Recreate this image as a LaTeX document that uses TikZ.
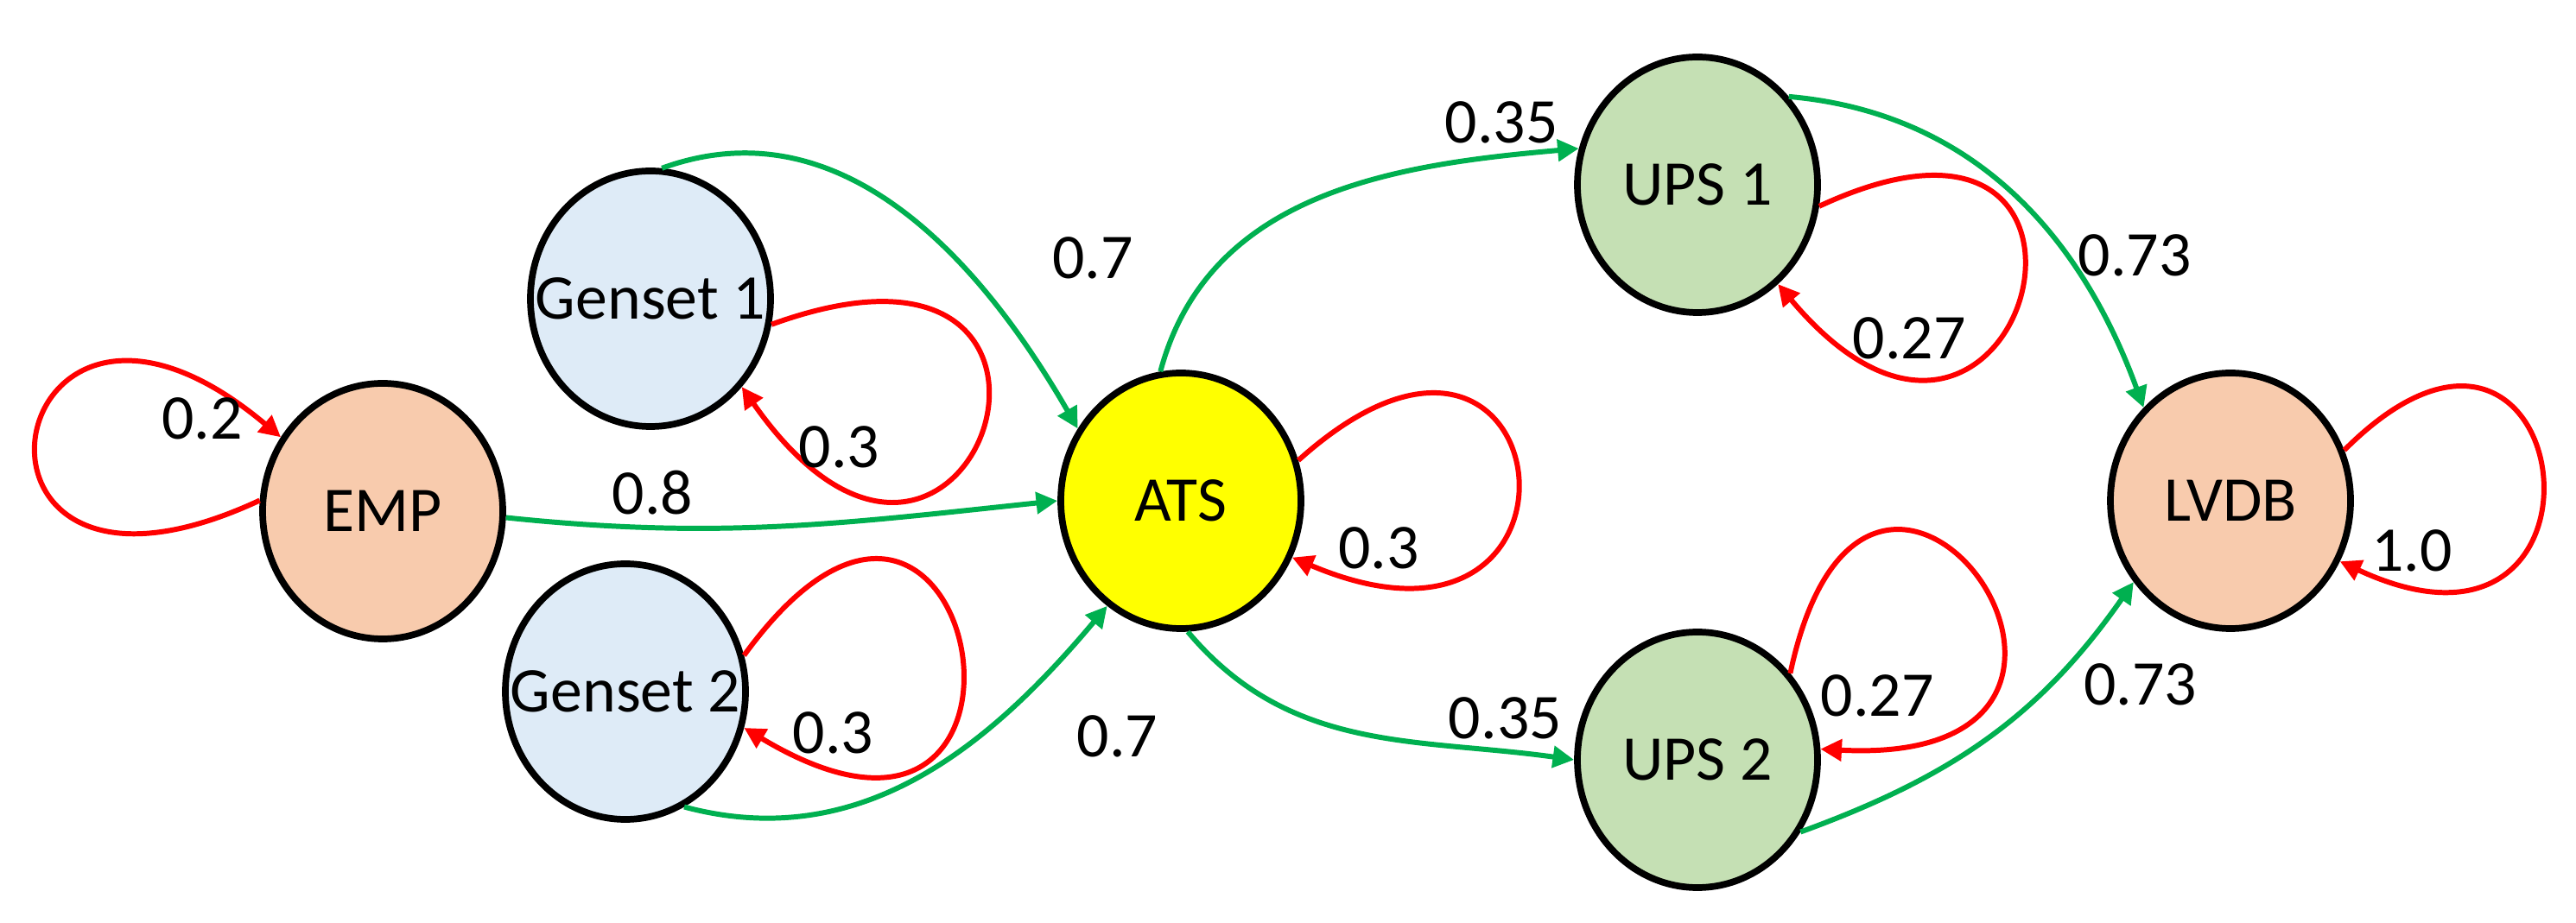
\documentclass[tikz,border=0pt]{standalone}
\usepackage{fontspec}
\setmainfont{Carlito}
\usetikzlibrary{shapes.geometric,arrows.meta}
\definecolor{flowgreen}{RGB}{0,176,80}
\definecolor{loopred}{RGB}{255,0,0}
\definecolor{empfill}{RGB}{248,203,173}
\definecolor{gensetfill}{RGB}{222,235,247}
\definecolor{atsfill}{RGB}{255,255,0}
\definecolor{upsfill}{RGB}{197,224,180}

\begin{document}
\begin{tikzpicture}[font=\fontsize{21}{25}\selectfont, >={Triangle[length=7pt,width=7pt]},
    flow/.style={color=flowgreen, line width=1.7pt},
    stay/.style={color=loopred, line width=1.7pt}]
    \useasboundingbox (0,0) rectangle (29.82,-10.69);

        \begin{scope}[every node/.style={ellipse,draw,line width=2.2pt,minimum width=2.78cm,minimum height=2.96cm,inner sep=0pt}]
            \node[fill=empfill] (EMP) at (4.43,-5.92) {\makebox[0pt]{EMP}};
            \node[fill=gensetfill] (G1) at (7.53,-3.46) {\makebox[0pt]{Genset 1}};
            \node[fill=gensetfill] (G2) at (7.24,-8.01) {\makebox[0pt]{Genset 2}};
            \node[fill=atsfill] (ATS) at (13.67,-5.80) {\makebox[0pt]{ATS}};
            \node[fill=upsfill] (UPS1) at (19.65,-2.14) {\makebox[0pt]{UPS 1}};
            \node[fill=upsfill] (UPS2) at (19.65,-8.80) {\makebox[0pt]{UPS 2}};
            \node[fill=empfill] (LVDB) at (25.82,-5.80) {\makebox[0pt]{LVDB}};
        \end{scope}
        \begin{scope}[every path/.style={->}, every node/.style={text=black}]
            \path [flow] (EMP.-3) edge[out=-6,in=186] node[pos=0.25, above] {0.8} (ATS.180);
            \path [flow] (G1.85) edge[out=20,in=120] node[pos=0.63, right=1cm] {0.7} (ATS.145);
            \path [flow] (G2.-63) edge[out=-15,in=230] node[pos=0.65, right=1cm] {0.7} (ATS.-125);
            \path [flow] (ATS.99) edge[out=75,in=185] node[pos=0.86, above] {0.35} (UPS1.163);
            \path [flow] (ATS.-87) edge[out=-50,in=172] node[pos=0.85, above] {0.35} (UPS2.180);
            \path [flow] (UPS1.44) edge[out=-5,in=110] node[pos=0.67, right] {0.73} (LVDB.133);
            \path [flow] (UPS2.-35) edge[out=20,in=235] node[pos=0.7, right=0.25cm] {0.73} (LVDB.-140);
            % self loops
            \path [stay] (EMP.175) edge[out=205,in=140,distance=4.3cm] node[pos=0.9, below] {0.2} (EMP.144);
            \path [stay] (G1.-12) edge[out=20,in=-55,distance=4.6cm] node[pos=0.85, above] {0.3} (G1.-44);
            \path [stay] (G2.17) edge[out=54,in=-31,distance=4.6cm] node[pos=0.9, above] {0.3} (G2.-17);
            \path [stay] (ATS.19) edge[out=42,in=-23,distance=4.1cm] node[pos=0.9, above] {0.3} (ATS.-27);
            \path [stay] (UPS1.-10) edge[out=25,in=-50,distance=4.4cm] node[pos=0.8, above] {0.27} (UPS1.-51);
            \path [stay] (UPS2.43) edge[out=78,in=-3,distance=4.4cm] node[pos=0.85, above left] {0.27} (UPS2.5);
            \path [stay] (LVDB.24) edge[out=45,in=-25,distance=3.8cm] node[pos=0.91, above] {1.0} (LVDB.-29);
        \end{scope}
\end{tikzpicture}
\end{document}
